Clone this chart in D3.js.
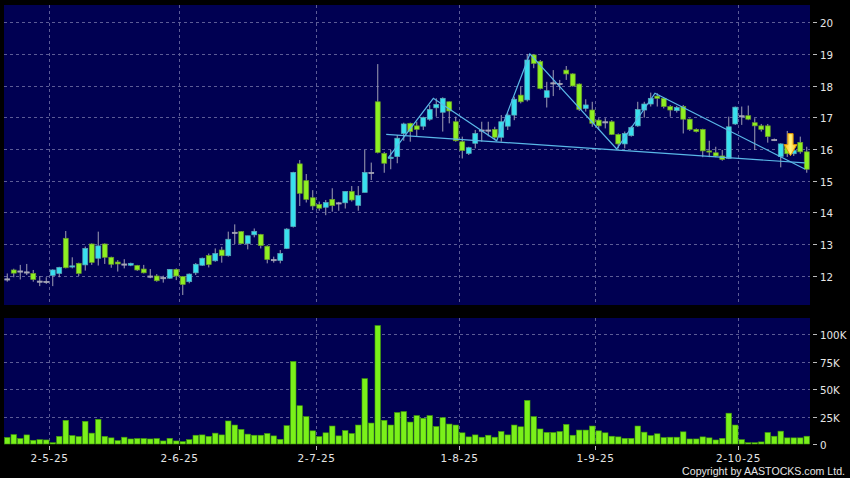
<!DOCTYPE html>
<html><head><meta charset="utf-8">
<script src="https://cdn.jsdelivr.net/npm/d3@7"></script>
<style>html,body{margin:0;padding:0;background:#000;} svg{display:block;}</style>
</head><body><svg id="c" width="850" height="478"></svg>
<script>
const dates = [
"2025-04-22","2025-04-23","2025-04-24","2025-04-25","2025-04-28","2025-04-29","2025-04-30",
"2025-05-02","2025-05-06","2025-05-07","2025-05-08","2025-05-09","2025-05-12","2025-05-13","2025-05-14","2025-05-15","2025-05-16","2025-05-19","2025-05-20","2025-05-21","2025-05-22","2025-05-23","2025-05-26","2025-05-27","2025-05-28","2025-05-29","2025-05-30",
"2025-06-02","2025-06-03","2025-06-04","2025-06-05","2025-06-06","2025-06-09","2025-06-10","2025-06-11","2025-06-12","2025-06-13","2025-06-16","2025-06-17","2025-06-18","2025-06-19","2025-06-20","2025-06-23","2025-06-24","2025-06-25","2025-06-26","2025-06-27","2025-06-30",
"2025-07-02","2025-07-03","2025-07-04","2025-07-07","2025-07-08","2025-07-09","2025-07-10","2025-07-11","2025-07-14","2025-07-15","2025-07-16","2025-07-17","2025-07-18","2025-07-21","2025-07-22","2025-07-23","2025-07-24","2025-07-25","2025-07-28","2025-07-29","2025-07-30","2025-07-31",
"2025-08-01","2025-08-04","2025-08-05","2025-08-06","2025-08-07","2025-08-08","2025-08-11","2025-08-12","2025-08-13","2025-08-14","2025-08-15","2025-08-18","2025-08-19","2025-08-20","2025-08-21","2025-08-22","2025-08-25","2025-08-26","2025-08-27","2025-08-28","2025-08-29",
"2025-09-01","2025-09-02","2025-09-03","2025-09-04","2025-09-05","2025-09-08","2025-09-09","2025-09-10","2025-09-11","2025-09-12","2025-09-15","2025-09-16","2025-09-17","2025-09-18","2025-09-19","2025-09-22","2025-09-23","2025-09-24","2025-09-25","2025-09-26","2025-09-29","2025-09-30",
"2025-10-02","2025-10-03","2025-10-06","2025-10-08","2025-10-09","2025-10-10","2025-10-13","2025-10-14","2025-10-15","2025-10-16","2025-10-17"];

const open = [11.90,12.18,12.15,12.12,12.07,11.83,11.82,12.01,12.07,13.18,
 12.28,12.39,12.34,13.00,12.55,13.00,12.58,12.43,12.37,12.33,
 12.32,12.21,11.99,11.99,11.94,11.92,12.20,11.97,11.81,12.09,
 12.33,12.64,12.47,12.81,12.63,13.37,13.39,13.01,13.29,13.30,
 12.93,12.51,12.48,12.86,13.55,15.53,15.00,14.46,14.25,14.16,
 14.41,14.30,14.30,14.66,14.22,14.63,15.26,17.49,15.86,15.70,
 15.76,16.49,16.81,16.73,16.72,16.94,17.30,17.16,17.49,16.86,
 16.23,15.86,16.18,16.60,16.60,16.62,16.37,16.72,17.07,17.70,
 17.55,18.97,18.76,17.63,18.09,18.07,18.49,18.37,18.05,17.28,
 17.23,16.91,16.86,16.86,16.46,16.16,16.42,16.73,17.23,17.42,
 17.67,17.60,17.34,17.21,17.34,16.94,16.62,16.62,15.94,15.88,
 15.78,15.70,16.79,17.05,17.05,16.83,16.73,16.73,16.30,15.76,
 16.10,15.85,16.21,15.91];
const high = [12.07,12.22,12.34,12.37,12.18,11.99,11.95,12.20,12.28,13.41,
 12.58,12.41,12.92,13.02,13.39,13.02,12.60,12.49,12.52,12.41,
 12.34,12.34,12.21,12.05,12.00,12.21,12.23,11.99,12.07,12.40,
 12.57,12.70,12.86,12.91,13.39,13.62,13.41,13.26,13.49,13.32,
 12.96,12.60,12.81,13.50,15.28,15.65,15.21,14.70,14.34,14.39,
 14.76,14.33,14.66,14.83,14.83,15.97,15.57,18.68,15.91,15.97,
 16.44,16.83,16.83,16.86,17.02,17.39,17.60,17.63,17.50,17.02,
 16.39,16.07,16.60,16.86,16.86,16.70,17.07,17.13,17.65,17.97,
 19.00,19.00,18.81,18.12,18.49,18.18,18.62,18.39,18.07,17.57,
 17.49,16.97,16.97,16.91,16.49,16.55,16.73,17.49,17.49,17.78,
 17.76,17.62,17.39,17.36,17.39,16.96,16.65,16.64,16.26,16.07,
 15.97,17.02,17.34,17.34,17.37,16.97,16.79,16.79,16.33,16.18,
 16.57,16.05,16.39,16.07];
const low = [11.81,11.95,11.88,12.02,11.81,11.67,11.74,11.67,11.95,12.23,
 12.23,11.99,12.16,12.34,12.32,12.37,12.25,12.13,12.23,12.30,
 12.15,12.07,11.92,11.81,11.78,11.90,11.86,11.39,11.76,12.02,
 12.31,12.26,12.44,12.41,12.60,13.00,12.99,12.83,13.21,12.86,
 12.39,12.41,12.39,12.84,13.52,14.20,14.31,14.07,14.05,13.91,
 14.02,14.05,14.12,14.34,14.05,14.63,15.02,15.86,15.25,15.36,
 15.55,16.26,16.23,16.41,16.60,16.89,17.02,16.55,16.81,16.23,
 15.70,15.81,16.02,16.23,16.40,16.28,16.23,16.60,16.91,17.44,
 17.50,18.55,17.88,17.31,17.67,17.86,18.18,17.97,17.20,17.18,
 16.70,16.60,16.65,16.44,16.02,16.02,16.39,16.70,16.99,17.34,
 17.34,17.28,17.02,17.15,16.49,16.57,16.52,15.74,15.74,15.74,
 15.63,15.68,16.76,16.76,16.91,15.97,16.55,16.20,16.25,15.42,
 15.75,15.78,15.85,15.25];
const close = [11.90,12.08,12.15,12.12,11.88,11.83,11.82,12.18,12.26,12.25,
 12.31,12.07,12.86,12.42,12.94,12.58,12.36,12.37,12.37,12.39,
 12.18,12.09,11.99,11.84,11.94,12.20,11.99,11.72,12.05,12.36,
 12.55,12.35,12.70,12.63,13.15,13.37,13.01,13.26,13.40,12.95,
 12.51,12.51,12.70,13.47,15.26,14.60,14.41,14.20,14.13,14.31,
 14.21,14.30,14.66,14.39,14.53,15.26,15.26,15.89,15.55,15.74,
 16.34,16.79,16.55,16.62,16.99,17.25,17.41,17.60,17.20,16.26,
 15.95,16.04,16.49,16.60,16.60,16.37,16.86,17.07,17.57,17.49,
 18.81,18.70,17.91,17.84,18.09,18.07,18.37,17.99,17.25,17.39,
 16.81,16.73,16.86,16.46,16.16,16.49,16.68,17.25,17.42,17.60,
 17.60,17.34,17.23,17.31,16.94,16.62,16.55,15.94,15.92,15.78,
 15.67,16.70,17.32,17.05,16.94,16.73,16.62,16.39,16.30,16.16,
 15.85,15.95,15.91,15.36];
// volume in thousands of shares
const volume = [6.0,8.6,5.0,8.3,3.4,4.0,3.7,1.2,7.0,21.6,
 7.7,6.8,20.7,9.9,22.5,7.0,5.6,3.1,6.2,4.6,
 5.0,5.0,4.6,5.0,2.8,5.2,2.8,2.2,4.0,8.0,
 8.3,7.0,9.9,8.3,21.0,17.3,13.3,9.0,8.0,8.0,
 9.6,7.4,4.3,16.7,75.3,34.9,25.0,12.0,6.8,10.2,
 16.4,7.4,12.3,9.6,17.3,59.6,19.1,108,21.6,17.3,
 28.7,29.6,20.0,25.9,23.5,25.9,16.0,24.0,18.2,17.3,
 10.2,6.5,8.3,6.2,8.0,6.2,11.4,8.3,17.3,15.7,
 39.8,25.0,13.7,10.6,10.5,11.4,17.9,8.0,12.7,12.7,
 16.4,12.0,10.2,7.1,6.5,5.2,5.2,16.4,10.8,7.7,
 9.3,5.9,6.2,6.2,11.1,4.6,4.6,6.5,5.6,3.7,
 5.2,28.1,17.3,4.0,1.2,1.2,1.9,10.5,7.1,11.7,
 5.6,5.6,5.6,7.1];

const priceTicks = [12,13,14,15,16,17,18,19,20];
const volTicks = [0,25,50,75,100];
const volTickLabels = ["0","25K","50K","75K","100K"];
const xTickDates = ["2025-05-02","2025-06-02","2025-07-02","2025-08-01","2025-09-01","2025-10-02"];
const xTickLabels = ["2-5-25","2-6-25","2-7-25","1-8-25","1-9-25","2-10-25"];
// trend lines as [bar index, price]
const neckline = [[58.3,16.46],[122.7,15.56]];
const zigzag = [[58.6,15.72],[65.55,17.60],[75.3,16.26],[80.4,19.00],[93.76,16.00],[99.65,17.76],[122.7,15.37]];
const arrowAt = [120.5, 15.79];

const svg = d3.select("#c");
svg.append("rect").attr("width",850).attr("height",478).attr("fill","#000");

const P = {l:4, r:810, t:5, b:305};
const V = {t:318, b:444};

const x = d3.scaleBand().domain(dates).range([P.l,P.r]).paddingInner(0.15).paddingOuter(0.075);
const bw = x.bandwidth();
const n = dates.length;
const xi = d3.scaleLinear().domain([0,n-1]).range([x(dates[0])+bw/2, x(dates[n-1])+bw/2]);
const y = d3.scaleLinear().domain([11.074,20.546]).range([P.b,P.t]);
const yv = d3.scaleLinear().domain([0,114.9]).range([V.b,V.t]);

const navy = "#000052";
const gridC = "#5c5c96";
svg.append("rect").attr("x",P.l).attr("y",P.t).attr("width",P.r-P.l).attr("height",P.b-P.t).attr("fill",navy);
svg.append("rect").attr("x",P.l).attr("y",V.t).attr("width",P.r-P.l).attr("height",V.b-V.t).attr("fill",navy);

const g = svg.append("g");
g.selectAll(".hg").data(priceTicks).join("line")
 .attr("x1",P.l).attr("x2",P.r).attr("y1",d=>Math.round(y(d))+0.5).attr("y2",d=>Math.round(y(d))+0.5)
 .attr("stroke",gridC).attr("stroke-width",1).attr("stroke-dasharray","3,3");
g.selectAll(".hv").data(volTicks.filter(d=>d>0)).join("line")
 .attr("x1",P.l).attr("x2",P.r).attr("y1",d=>Math.round(yv(d))+0.5).attr("y2",d=>Math.round(yv(d))+0.5)
 .attr("stroke",gridC).attr("stroke-width",1).attr("stroke-dasharray","3,3");
xTickDates.forEach(dt=>{
  const xx = Math.round(x(dt)-0.5)+0.5;
  g.append("line").attr("x1",xx).attr("x2",xx).attr("y1",P.t).attr("y2",P.b)
   .attr("stroke",gridC).attr("stroke-dasharray","3,3");
  g.append("line").attr("x1",xx).attr("x2",xx).attr("y1",V.t).attr("y2",V.b)
   .attr("stroke",gridC).attr("stroke-dasharray","3,3");
});

const axC = "#e6e6e6";
const ra = svg.append("g").attr("font-family","DejaVu Sans, sans-serif").attr("font-size",10.3).attr("fill",axC);
priceTicks.forEach(t=>{
  const yy = Math.round(y(t))+0.5;
  ra.append("line").attr("x1",813).attr("x2",817).attr("y1",yy).attr("y2",yy).attr("stroke","#bbb");
  ra.append("text").attr("x",820).attr("y",yy).attr("dominant-baseline","central").text(t);
});
volTicks.forEach((t,i)=>{
  const yy = Math.round(yv(t))+0.5;
  ra.append("line").attr("x1",813).attr("x2",817).attr("y1",yy).attr("y2",yy).attr("stroke","#bbb");
  ra.append("text").attr("x",820).attr("y",yy).attr("dominant-baseline","central").text(volTickLabels[i]);
});

const xa = svg.append("g").attr("font-family","DejaVu Sans, sans-serif").attr("font-size",10.5).attr("fill",axC);
xTickDates.forEach((dt,i)=>{
  const xx = Math.round(x(dt)-0.5)+0.5;
  xa.append("line").attr("x1",xx).attr("x2",xx).attr("y1",446).attr("y2",450).attr("stroke","#bbb");
  xa.append("text").attr("x",xx).attr("y",461.5).attr("text-anchor","middle").attr("letter-spacing",0.6).text(xTickLabels[i]);
});
svg.append("text").attr("x",845).attr("y",474.5).attr("text-anchor","end")
 .attr("font-family","Liberation Sans, Arial, sans-serif").attr("font-size",10.6).attr("fill",axC)
 .text("Copyright by AASTOCKS.com Ltd.");

svg.append("g").selectAll("rect").data(dates).join("rect")
 .attr("x",d=>x(d)).attr("width",bw)
 .attr("y",(d,i)=>yv(volume[i])).attr("height",(d,i)=>yv(0)-yv(volume[i]))
 .attr("fill","#7af01a").attr("stroke","#3f9a08").attr("stroke-width",0.6);

const upC = "#38e0ee", upS = "#5aa8b8", dnC = "#8ef022", dnS = "#6a9a2a", wickC = "#a0a0b4";
const cg = svg.append("g");
cg.selectAll("line.w").data(dates).join("line")
 .attr("x1",d=>x(d)+bw/2).attr("x2",d=>x(d)+bw/2)
 .attr("y1",(d,i)=>y(high[i])).attr("y2",(d,i)=>y(low[i]))
 .attr("stroke",wickC).attr("stroke-width",1);
cg.selectAll("rect.b").data(dates).join("rect")
 .attr("x",d=>x(d)+0.3).attr("width",bw-0.6)
 .attr("y",(d,i)=>y(Math.max(open[i],close[i])))
 .attr("height",(d,i)=>Math.max(1.2, Math.abs(y(open[i])-y(close[i]))))
 .attr("fill",(d,i)=>close[i]>open[i]?upC:(close[i]<open[i]?dnC:"#a8a8b8"))
 .attr("stroke",(d,i)=>close[i]>open[i]?upS:(close[i]<open[i]?dnS:"#a8a8b8"))
 .attr("stroke-width",0.7);

const ln = d3.line().x(d=>xi(d[0])).y(d=>y(d[1]));
svg.append("path").attr("d",ln(neckline)).attr("fill","none").attr("stroke","#5ab8e8").attr("stroke-width",1.2);
svg.append("path").attr("d",ln(zigzag)).attr("fill","none").attr("stroke","#5ab8e8").attr("stroke-width",1.2);

const defs = svg.append("defs");
const gr = defs.append("linearGradient").attr("id","ag").attr("x1",0).attr("x2",1).attr("y1",0).attr("y2",0);
gr.append("stop").attr("offset","0%").attr("stop-color","#ffbf10");
gr.append("stop").attr("offset","50%").attr("stop-color","#fff07a");
gr.append("stop").attr("offset","100%").attr("stop-color","#ffc21a");
const ax = xi(arrowAt[0]), ay = y(arrowAt[1]);
const arrow = [[ax-2.6,ay-22],[ax+2.6,ay-22],[ax+2.6,ay-11],[ax+6.4,ay-11],[ax,ay],[ax-6.4,ay-11],[ax-2.6,ay-11]];
svg.append("path").attr("d",d3.line()(arrow)+"Z").attr("fill","url(#ag)").attr("stroke","#e89a00").attr("stroke-width",1);
</script></body></html>
